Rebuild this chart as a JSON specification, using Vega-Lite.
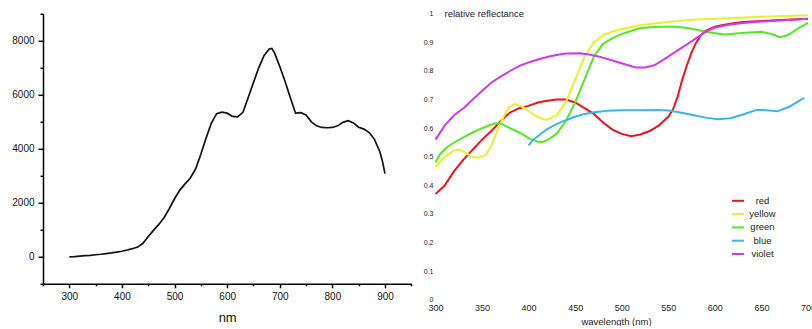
{
  "$schema": "https://vega.github.io/schema/vega-lite/v6.json",
  "padding": {"left": 11, "top": 8.8, "right": 0, "bottom": 0},
  "bounds": "flush",
  "spacing": 23.5,
  "config": {
    "view": {"stroke": null},
    "axis": {"labelFont": "Liberation Sans", "titleFont": "Liberation Sans", "titleFontWeight": "normal", "labelColor": "#111", "titleColor": "#111", "grid": false, "labelFlush": false, "labelOverlap": false}
  },
  "datasets": {
    "spectrum": [
      {"nm": 300, "value": 0}, {"nm": 310, "value": 10}, {"nm": 320, "value": 25}, {"nm": 330, "value": 40},
      {"nm": 340, "value": 55}, {"nm": 350, "value": 75}, {"nm": 360, "value": 95}, {"nm": 370, "value": 120},
      {"nm": 380, "value": 145}, {"nm": 390, "value": 175}, {"nm": 400, "value": 205}, {"nm": 410, "value": 250},
      {"nm": 420, "value": 300}, {"nm": 430, "value": 360}, {"nm": 440, "value": 500}, {"nm": 450, "value": 750},
      {"nm": 460, "value": 980}, {"nm": 470, "value": 1200}, {"nm": 480, "value": 1450}, {"nm": 490, "value": 1780},
      {"nm": 500, "value": 2150}, {"nm": 510, "value": 2470}, {"nm": 520, "value": 2700}, {"nm": 530, "value": 2920},
      {"nm": 540, "value": 3250}, {"nm": 550, "value": 3800}, {"nm": 560, "value": 4400}, {"nm": 570, "value": 4950},
      {"nm": 580, "value": 5300}, {"nm": 590, "value": 5360}, {"nm": 600, "value": 5320}, {"nm": 610, "value": 5200},
      {"nm": 620, "value": 5180}, {"nm": 630, "value": 5350}, {"nm": 640, "value": 5900}, {"nm": 650, "value": 6450},
      {"nm": 660, "value": 7000}, {"nm": 670, "value": 7450}, {"nm": 680, "value": 7700}, {"nm": 685, "value": 7720},
      {"nm": 690, "value": 7550}, {"nm": 700, "value": 7050}, {"nm": 710, "value": 6500}, {"nm": 720, "value": 5900},
      {"nm": 730, "value": 5320}, {"nm": 740, "value": 5340}, {"nm": 750, "value": 5250}, {"nm": 760, "value": 5000},
      {"nm": 770, "value": 4850}, {"nm": 780, "value": 4790}, {"nm": 790, "value": 4780}, {"nm": 800, "value": 4790},
      {"nm": 810, "value": 4850}, {"nm": 820, "value": 4980}, {"nm": 830, "value": 5040}, {"nm": 840, "value": 4960},
      {"nm": 850, "value": 4800}, {"nm": 860, "value": 4730}, {"nm": 870, "value": 4600}, {"nm": 880, "value": 4350},
      {"nm": 890, "value": 3900}, {"nm": 895, "value": 3550}, {"nm": 900, "value": 3080}
    ],
    "reflect": [
      {"series": "red", "nm": 300, "v": 0.37}, {"series": "red", "nm": 310, "v": 0.40}, {"series": "red", "nm": 320, "v": 0.45},
      {"series": "red", "nm": 330, "v": 0.49}, {"series": "red", "nm": 340, "v": 0.525}, {"series": "red", "nm": 350, "v": 0.56},
      {"series": "red", "nm": 360, "v": 0.59}, {"series": "red", "nm": 370, "v": 0.625}, {"series": "red", "nm": 380, "v": 0.655},
      {"series": "red", "nm": 390, "v": 0.67}, {"series": "red", "nm": 400, "v": 0.678}, {"series": "red", "nm": 410, "v": 0.69},
      {"series": "red", "nm": 420, "v": 0.696}, {"series": "red", "nm": 430, "v": 0.70}, {"series": "red", "nm": 440, "v": 0.70},
      {"series": "red", "nm": 450, "v": 0.69}, {"series": "red", "nm": 460, "v": 0.67}, {"series": "red", "nm": 470, "v": 0.65},
      {"series": "red", "nm": 480, "v": 0.62}, {"series": "red", "nm": 490, "v": 0.595}, {"series": "red", "nm": 500, "v": 0.58},
      {"series": "red", "nm": 510, "v": 0.572}, {"series": "red", "nm": 520, "v": 0.578}, {"series": "red", "nm": 530, "v": 0.59},
      {"series": "red", "nm": 540, "v": 0.61}, {"series": "red", "nm": 550, "v": 0.64}, {"series": "red", "nm": 555, "v": 0.665},
      {"series": "red", "nm": 560, "v": 0.71}, {"series": "red", "nm": 565, "v": 0.77}, {"series": "red", "nm": 570, "v": 0.82},
      {"series": "red", "nm": 575, "v": 0.865}, {"series": "red", "nm": 580, "v": 0.90}, {"series": "red", "nm": 585, "v": 0.925},
      {"series": "red", "nm": 590, "v": 0.94}, {"series": "red", "nm": 600, "v": 0.955}, {"series": "red", "nm": 610, "v": 0.962},
      {"series": "red", "nm": 620, "v": 0.967}, {"series": "red", "nm": 630, "v": 0.971}, {"series": "red", "nm": 650, "v": 0.975},
      {"series": "red", "nm": 670, "v": 0.978}, {"series": "red", "nm": 690, "v": 0.981}, {"series": "red", "nm": 700, "v": 0.983},

      {"series": "yellow", "nm": 300, "v": 0.465}, {"series": "yellow", "nm": 310, "v": 0.50}, {"series": "yellow", "nm": 320, "v": 0.522},
      {"series": "yellow", "nm": 325, "v": 0.525}, {"series": "yellow", "nm": 330, "v": 0.518}, {"series": "yellow", "nm": 340, "v": 0.50},
      {"series": "yellow", "nm": 345, "v": 0.497}, {"series": "yellow", "nm": 350, "v": 0.50}, {"series": "yellow", "nm": 355, "v": 0.51},
      {"series": "yellow", "nm": 360, "v": 0.54}, {"series": "yellow", "nm": 370, "v": 0.62}, {"series": "yellow", "nm": 378, "v": 0.67},
      {"series": "yellow", "nm": 385, "v": 0.685}, {"series": "yellow", "nm": 395, "v": 0.672}, {"series": "yellow", "nm": 405, "v": 0.648},
      {"series": "yellow", "nm": 415, "v": 0.632}, {"series": "yellow", "nm": 420, "v": 0.63}, {"series": "yellow", "nm": 430, "v": 0.645},
      {"series": "yellow", "nm": 440, "v": 0.69}, {"series": "yellow", "nm": 450, "v": 0.77}, {"series": "yellow", "nm": 460, "v": 0.85},
      {"series": "yellow", "nm": 470, "v": 0.90}, {"series": "yellow", "nm": 480, "v": 0.925}, {"series": "yellow", "nm": 490, "v": 0.938},
      {"series": "yellow", "nm": 500, "v": 0.947}, {"series": "yellow", "nm": 520, "v": 0.96}, {"series": "yellow", "nm": 540, "v": 0.968},
      {"series": "yellow", "nm": 560, "v": 0.975}, {"series": "yellow", "nm": 580, "v": 0.98}, {"series": "yellow", "nm": 600, "v": 0.983},
      {"series": "yellow", "nm": 650, "v": 0.99}, {"series": "yellow", "nm": 700, "v": 0.995},

      {"series": "green", "nm": 300, "v": 0.48}, {"series": "green", "nm": 305, "v": 0.51}, {"series": "green", "nm": 313, "v": 0.535},
      {"series": "green", "nm": 320, "v": 0.55}, {"series": "green", "nm": 330, "v": 0.568}, {"series": "green", "nm": 340, "v": 0.585},
      {"series": "green", "nm": 350, "v": 0.60}, {"series": "green", "nm": 360, "v": 0.613}, {"series": "green", "nm": 365, "v": 0.617},
      {"series": "green", "nm": 370, "v": 0.616}, {"series": "green", "nm": 380, "v": 0.60}, {"series": "green", "nm": 390, "v": 0.585},
      {"series": "green", "nm": 400, "v": 0.565}, {"series": "green", "nm": 410, "v": 0.553}, {"series": "green", "nm": 415, "v": 0.552},
      {"series": "green", "nm": 420, "v": 0.558}, {"series": "green", "nm": 430, "v": 0.58}, {"series": "green", "nm": 440, "v": 0.625},
      {"series": "green", "nm": 450, "v": 0.69}, {"series": "green", "nm": 460, "v": 0.77}, {"series": "green", "nm": 470, "v": 0.85},
      {"series": "green", "nm": 480, "v": 0.895}, {"series": "green", "nm": 490, "v": 0.915}, {"series": "green", "nm": 500, "v": 0.93},
      {"series": "green", "nm": 510, "v": 0.94}, {"series": "green", "nm": 520, "v": 0.95}, {"series": "green", "nm": 540, "v": 0.955},
      {"series": "green", "nm": 560, "v": 0.955}, {"series": "green", "nm": 575, "v": 0.948}, {"series": "green", "nm": 590, "v": 0.937},
      {"series": "green", "nm": 610, "v": 0.928}, {"series": "green", "nm": 630, "v": 0.933}, {"series": "green", "nm": 650, "v": 0.937},
      {"series": "green", "nm": 660, "v": 0.93}, {"series": "green", "nm": 670, "v": 0.918}, {"series": "green", "nm": 678, "v": 0.925},
      {"series": "green", "nm": 690, "v": 0.95}, {"series": "green", "nm": 700, "v": 0.968},

      {"series": "blue", "nm": 400, "v": 0.54}, {"series": "blue", "nm": 405, "v": 0.56}, {"series": "blue", "nm": 413, "v": 0.58},
      {"series": "blue", "nm": 420, "v": 0.597}, {"series": "blue", "nm": 431, "v": 0.616}, {"series": "blue", "nm": 440, "v": 0.628},
      {"series": "blue", "nm": 450, "v": 0.64}, {"series": "blue", "nm": 460, "v": 0.65}, {"series": "blue", "nm": 470, "v": 0.656},
      {"series": "blue", "nm": 485, "v": 0.661}, {"series": "blue", "nm": 500, "v": 0.663}, {"series": "blue", "nm": 520, "v": 0.663},
      {"series": "blue", "nm": 540, "v": 0.664}, {"series": "blue", "nm": 550, "v": 0.662}, {"series": "blue", "nm": 560, "v": 0.657},
      {"series": "blue", "nm": 575, "v": 0.647}, {"series": "blue", "nm": 590, "v": 0.637}, {"series": "blue", "nm": 603, "v": 0.631},
      {"series": "blue", "nm": 617, "v": 0.635}, {"series": "blue", "nm": 630, "v": 0.648}, {"series": "blue", "nm": 645, "v": 0.664},
      {"series": "blue", "nm": 655, "v": 0.663}, {"series": "blue", "nm": 667, "v": 0.659}, {"series": "blue", "nm": 680, "v": 0.675},
      {"series": "blue", "nm": 690, "v": 0.695}, {"series": "blue", "nm": 696, "v": 0.706},

      {"series": "violet", "nm": 300, "v": 0.56}, {"series": "violet", "nm": 310, "v": 0.61}, {"series": "violet", "nm": 320, "v": 0.645},
      {"series": "violet", "nm": 330, "v": 0.67}, {"series": "violet", "nm": 340, "v": 0.70}, {"series": "violet", "nm": 350, "v": 0.73},
      {"series": "violet", "nm": 360, "v": 0.76}, {"series": "violet", "nm": 370, "v": 0.78}, {"series": "violet", "nm": 380, "v": 0.80},
      {"series": "violet", "nm": 390, "v": 0.818}, {"series": "violet", "nm": 400, "v": 0.83}, {"series": "violet", "nm": 410, "v": 0.84},
      {"series": "violet", "nm": 420, "v": 0.849}, {"series": "violet", "nm": 430, "v": 0.856}, {"series": "violet", "nm": 440, "v": 0.861},
      {"series": "violet", "nm": 455, "v": 0.862}, {"series": "violet", "nm": 465, "v": 0.858}, {"series": "violet", "nm": 475, "v": 0.851},
      {"series": "violet", "nm": 490, "v": 0.837}, {"series": "violet", "nm": 505, "v": 0.822}, {"series": "violet", "nm": 515, "v": 0.812},
      {"series": "violet", "nm": 525, "v": 0.812}, {"series": "violet", "nm": 535, "v": 0.82}, {"series": "violet", "nm": 545, "v": 0.84},
      {"series": "violet", "nm": 560, "v": 0.872}, {"series": "violet", "nm": 570, "v": 0.893}, {"series": "violet", "nm": 580, "v": 0.915},
      {"series": "violet", "nm": 590, "v": 0.937}, {"series": "violet", "nm": 600, "v": 0.952}, {"series": "violet", "nm": 615, "v": 0.962},
      {"series": "violet", "nm": 630, "v": 0.968}, {"series": "violet", "nm": 650, "v": 0.973}, {"series": "violet", "nm": 670, "v": 0.977},
      {"series": "violet", "nm": 700, "v": 0.983}
    ]
  },
  "hconcat": [
    {
      "width": 368.3,
      "height": 270,
      "data": {"name": "spectrum"},
      "mark": {"type": "line", "color": "#111", "strokeWidth": 1.7},
      "encoding": {
        "x": {
          "field": "nm", "type": "quantitative",
          "scale": {"domain": [250, 950], "nice": false, "zero": false},
          "axis": {
            "title": "nm", "titleFontSize": 13, "titlePadding": 10,
            "values": [250, 300, 350, 400, 450, 500, 550, 600, 650, 700, 750, 800, 850, 900, 950],
            "format": "d",
            "labelExpr": "datum.value % 100 === 0 && datum.value >= 300 && datum.value <= 900 ? datum.label : ''",
            "labelFontSize": 10, "labelPadding": 4,
            "domainColor": "#000", "domainWidth": 1.5,
            "tickColor": "#000", "tickWidth": 1.5,
            "tickSize": {"condition": {"test": "datum.value % 100 === 0", "value": 4}, "value": 2}
          }
        },
        "y": {
          "field": "value", "type": "quantitative",
          "scale": {"domain": [-1000, 9000], "nice": false, "zero": false},
          "axis": {
            "title": null,
            "values": [-1000, 0, 1000, 2000, 3000, 4000, 5000, 6000, 7000, 8000, 9000],
            "format": "d",
            "labelExpr": "datum.value % 2000 === 0 && datum.value >= 0 && datum.value <= 8000 ? datum.label : ''",
            "labelFontSize": 10, "labelPadding": 4,
            "domainColor": "#000", "domainWidth": 1.5,
            "tickColor": "#000", "tickWidth": 1.5,
            "tickSize": {"condition": {"test": "datum.value % 2000 === 0", "value": 5}, "value": 3}
          }
        }
      }
    },
    {
      "width": 372.5,
      "height": 286,
      "data": {"name": "reflect"},
      "mark": {"type": "line", "strokeWidth": 2},
      "encoding": {
        "x": {
          "field": "nm", "type": "quantitative",
          "scale": {"domain": [300, 700], "nice": false, "zero": false},
          "axis": {
            "title": "wavelength (nm)", "titleFontSize": 9.5, "titlePadding": 4, "titleX": 180.5, "titleColor": "#222",
            "values": [300, 350, 400, 450, 500, 550, 600, 650, 700],
            "labelFontSize": 9, "labelPadding": 3.5, "labelColor": "#222",
            "domain": false, "ticks": false
          }
        },
        "y": {
          "field": "v", "type": "quantitative",
          "scale": {"domain": [0, 1], "nice": false},
          "axis": {
            "title": "relative reflectance", "titleAngle": 0, "titleAlign": "left", "titleBaseline": "middle",
            "titleX": 8.5, "titleY": 0, "titleFontSize": 9.5, "titleColor": "#222",
            "values": [0, 0.1, 0.2, 0.3, 0.4, 0.5, 0.6, 0.7, 0.8, 0.9, 1],
            "format": "~g",
            "labelFontSize": 7, "labelPadding": 2.5, "labelColor": "#222",
            "domain": false, "ticks": false
          }
        },
        "color": {
          "field": "series", "type": "nominal",
          "scale": {"domain": ["red", "yellow", "green", "blue", "violet"], "range": ["#e5141e", "#e6f032", "#55e628", "#3cb4e6", "#c83ced"]},
          "legend": {
            "orient": "none", "legendX": 688, "legendY": 180, "title": null,
            "symbolType": "stroke", "symbolSize": 144, "symbolStrokeWidth": 2,
            "labelFont": "Liberation Sans", "labelFontSize": 9.5, "labelColor": "#222",
            "labelAlign": "center", "labelOffset": 17.5, "rowPadding": 1.3, "padding": 0
          }
        }
      }
    }
  ]
}
